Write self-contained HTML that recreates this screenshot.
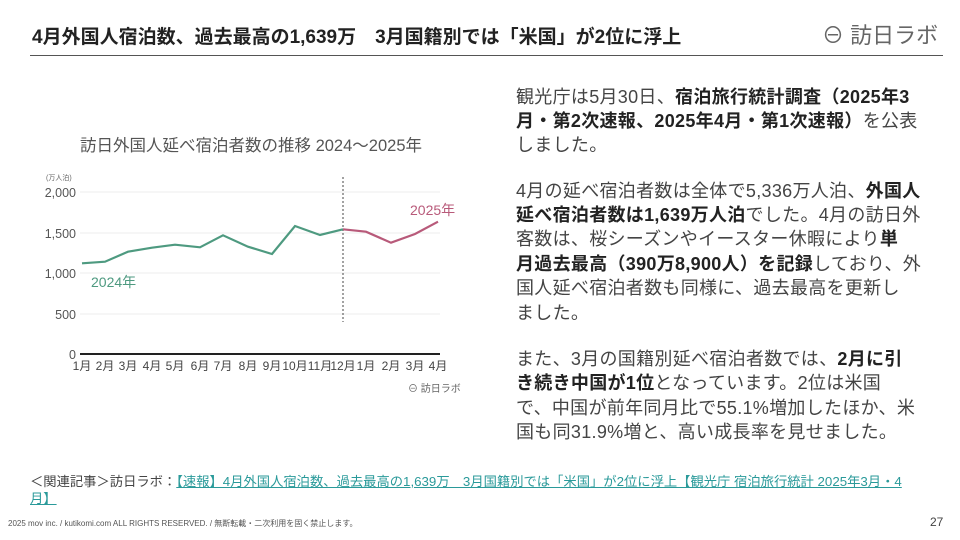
<!DOCTYPE html>
<html><head><meta charset="utf-8"><style>
body{margin:0;width:960px;height:540px;background:#fff;position:relative;overflow:hidden;font-family:"Liberation Sans","Noto Sans CJK JP",sans-serif;color:#333}
.a{position:absolute;white-space:nowrap}
.t{font-size:18px;color:#444;letter-spacing:0.3px}
.t b{color:#222}
</style></head><body>
<div class="a" style="left:32px;top:22px;font-size:19px;font-weight:bold;color:#222">4月外国人宿泊数、過去最高の1,639万　3月国籍別では「米国」が2位に浮上</div>
<div class="a" style="left:822px;top:18px;font-size:22px;color:#666">⊖ 訪日ラボ</div>
<div class="a" style="left:30px;top:55px;width:913px;height:1px;background:#555"></div>

<svg class="a" style="left:0;top:0" width="500" height="460">
<text x="80" y="151" font-size="16.5" fill="#555" font-family="Liberation Sans,Noto Sans CJK JP,sans-serif">訪日外国人延べ宿泊者数の推移 2024〜2025年</text>
<text x="46" y="180" font-size="7" fill="#666" font-family="Liberation Sans,Noto Sans CJK JP,sans-serif">(万人泊)</text>
<g font-size="12.5" fill="#555" text-anchor="end" font-family="Liberation Sans,sans-serif">
<text x="76" y="197">2,000</text><text x="76" y="238">1,500</text><text x="76" y="278">1,000</text><text x="76" y="319">500</text><text x="76" y="359">0</text></g>
<g stroke="#eee"><line x1="80" x2="440" y1="192" y2="192"/><line x1="80" x2="440" y1="233" y2="233"/><line x1="80" x2="440" y1="273" y2="273"/><line x1="80" x2="440" y1="314" y2="314"/></g>
<line x1="80" x2="440" y1="354" y2="354" stroke="#222" stroke-width="2"/>
<line x1="343" x2="343" y1="177" y2="322" stroke="#444" stroke-dasharray="2,2"/>
<polyline fill="none" stroke="#4e9a80" stroke-width="2.2" points="82,263.3 105,261.7 128,251.7 152,247.7 175,244.7 200,247.3 223,235.3 248,246.7 272,254 295,226 320,235 343,229.3"/>
<polyline fill="none" stroke="#b85a7a" stroke-width="2.2" points="343,229.3 366,231.7 391,242.7 415,234 438,221.7"/>
<text x="91" y="287" font-size="14" fill="#4e9a80" font-family="Liberation Sans,Noto Sans CJK JP,sans-serif">2024年</text>
<text x="410" y="215" font-size="14" fill="#b85a7a" font-family="Liberation Sans,Noto Sans CJK JP,sans-serif">2025年</text>
<g font-size="12" fill="#444" text-anchor="middle" font-family="Liberation Sans,Noto Sans CJK JP,sans-serif">
<text x="82" y="370">1月</text><text x="105" y="370">2月</text><text x="128" y="370">3月</text><text x="152" y="370">4月</text><text x="175" y="370">5月</text><text x="200" y="370">6月</text><text x="223" y="370">7月</text><text x="248" y="370">8月</text><text x="272" y="370">9月</text><text x="295" y="370">10月</text><text x="320" y="370">11月</text><text x="343" y="370">12月</text><text x="366" y="370">1月</text><text x="391" y="370">2月</text><text x="415" y="370">3月</text><text x="438" y="370">4月</text></g>
<text x="408" y="392" font-size="10" fill="#666" font-family="Liberation Sans,Noto Sans CJK JP,sans-serif">⊖ 訪日ラボ</text>
</svg>

<div class="a t" style="left:516px;top:83px">観光庁は5月30日、<b>宿泊旅行統計調査（2025年3</b></div>
<div class="a t" style="left:516px;top:107px"><b>月・第2次速報、2025年4月・第1次速報）</b>を公表</div>
<div class="a t" style="left:516px;top:131px">しました。</div>
<div class="a t" style="left:516px;top:177px">4月の延べ宿泊者数は全体で5,336万人泊、<b>外国人</b></div>
<div class="a t" style="left:516px;top:201px"><b>延べ宿泊者数は1,639万人泊</b>でした。4月の訪日外</div>
<div class="a t" style="left:516px;top:225px">客数は、桜シーズンやイースター休暇により<b>単</b></div>
<div class="a t" style="left:516px;top:250px"><b>月過去最高（390万8,900人）を記録</b>しており、外</div>
<div class="a t" style="left:516px;top:274px">国人延べ宿泊者数も同様に、過去最高を更新し</div>
<div class="a t" style="left:516px;top:299px">ました。</div>
<div class="a t" style="left:516px;top:345px">また、3月の国籍別延べ宿泊者数では、<b>2月に引</b></div>
<div class="a t" style="left:516px;top:369px"><b>き続き中国が1位</b>となっています。2位は米国</div>
<div class="a t" style="left:516px;top:394px">で、中国が前年同月比で55.1%増加したほか、米</div>
<div class="a t" style="left:516px;top:418px">国も同31.9%増と、高い成長率を見せました。</div>

<div class="a" style="left:30px;top:471px;font-size:13.3px;color:#444">＜関連記事＞訪日ラボ：<span style="color:#2a9a9a;text-decoration:underline">【速報】4月外国人宿泊数、過去最高の1,639万　3月国籍別では「米国」が2位に浮上【観光庁 宿泊旅行統計 2025年3月・4</span></div>
<div class="a" style="left:30px;top:488px;font-size:13.3px;color:#2a9a9a;text-decoration:underline">月】</div>
<div class="a" style="left:8px;top:518px;font-size:8px;color:#555">2025 mov inc. / kutikomi.com ALL RIGHTS RESERVED. / 無断転載・二次利用を固く禁止します。</div>
<div class="a" style="left:930px;top:515px;font-size:12px;color:#444">27</div>
</body></html>
